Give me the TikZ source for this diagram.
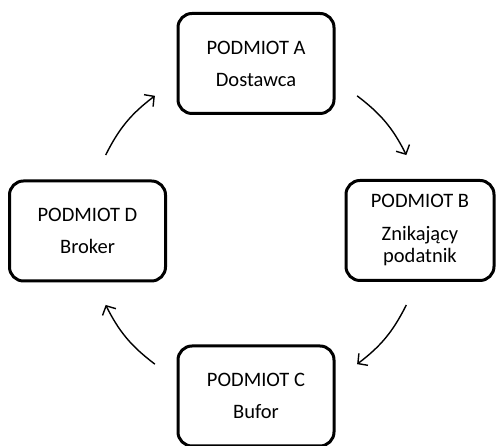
\documentclass[tikz,border=0pt]{standalone}
\usepackage{fontspec}
\setmainfont{Carlito}
\usetikzlibrary{shapes, arrows, calc, positioning}
\usetikzlibrary{arrows.meta}

\begin{document}
\begin{tikzpicture}[
  x=1pt, y=1pt,
  every node/.style={font=\fontsize{20.5}{24}\selectfont, align=center},
  entity/.style={rectangle, draw, line width=3pt, rounded corners=14pt, minimum width=156pt, minimum height=100pt, inner sep=0pt},
  flow/.style={draw, -{Straight Barb[length=7pt, width=15pt]}, line width=1.4pt}
]
\useasboundingbox (0,0) rectangle (496,446);
\coordinate (o) at (256,216);

% the four entities
\node[entity] (A) at (256,382.5) {PODMIOT A\\[8pt]Dostawca};
\node[entity, minimum width=148pt] (B) at (420,215.5) {PODMIOT B\\[9pt]Znikający\\[-2pt]podatnik};
\node[entity] (C) at (256,50) {PODMIOT C\\[8pt]Bufor};
\node[entity] (D) at (87.5,215) {PODMIOT D\\[8pt]Broker};

% circular flow between them
\foreach \s/\e/\n in {53/26.5/ab, -26.5/-53/bc, -127/-153.5/cd, 153.5/127/da}{
  \coordinate (\n1) at ($(o)+(\s:168)$);
  \coordinate (\n2) at ($(o)+(\e:168)$);
  \draw[flow] (\n1) to[bend left=13] (\n2);
}

\end{tikzpicture}
\end{document}
